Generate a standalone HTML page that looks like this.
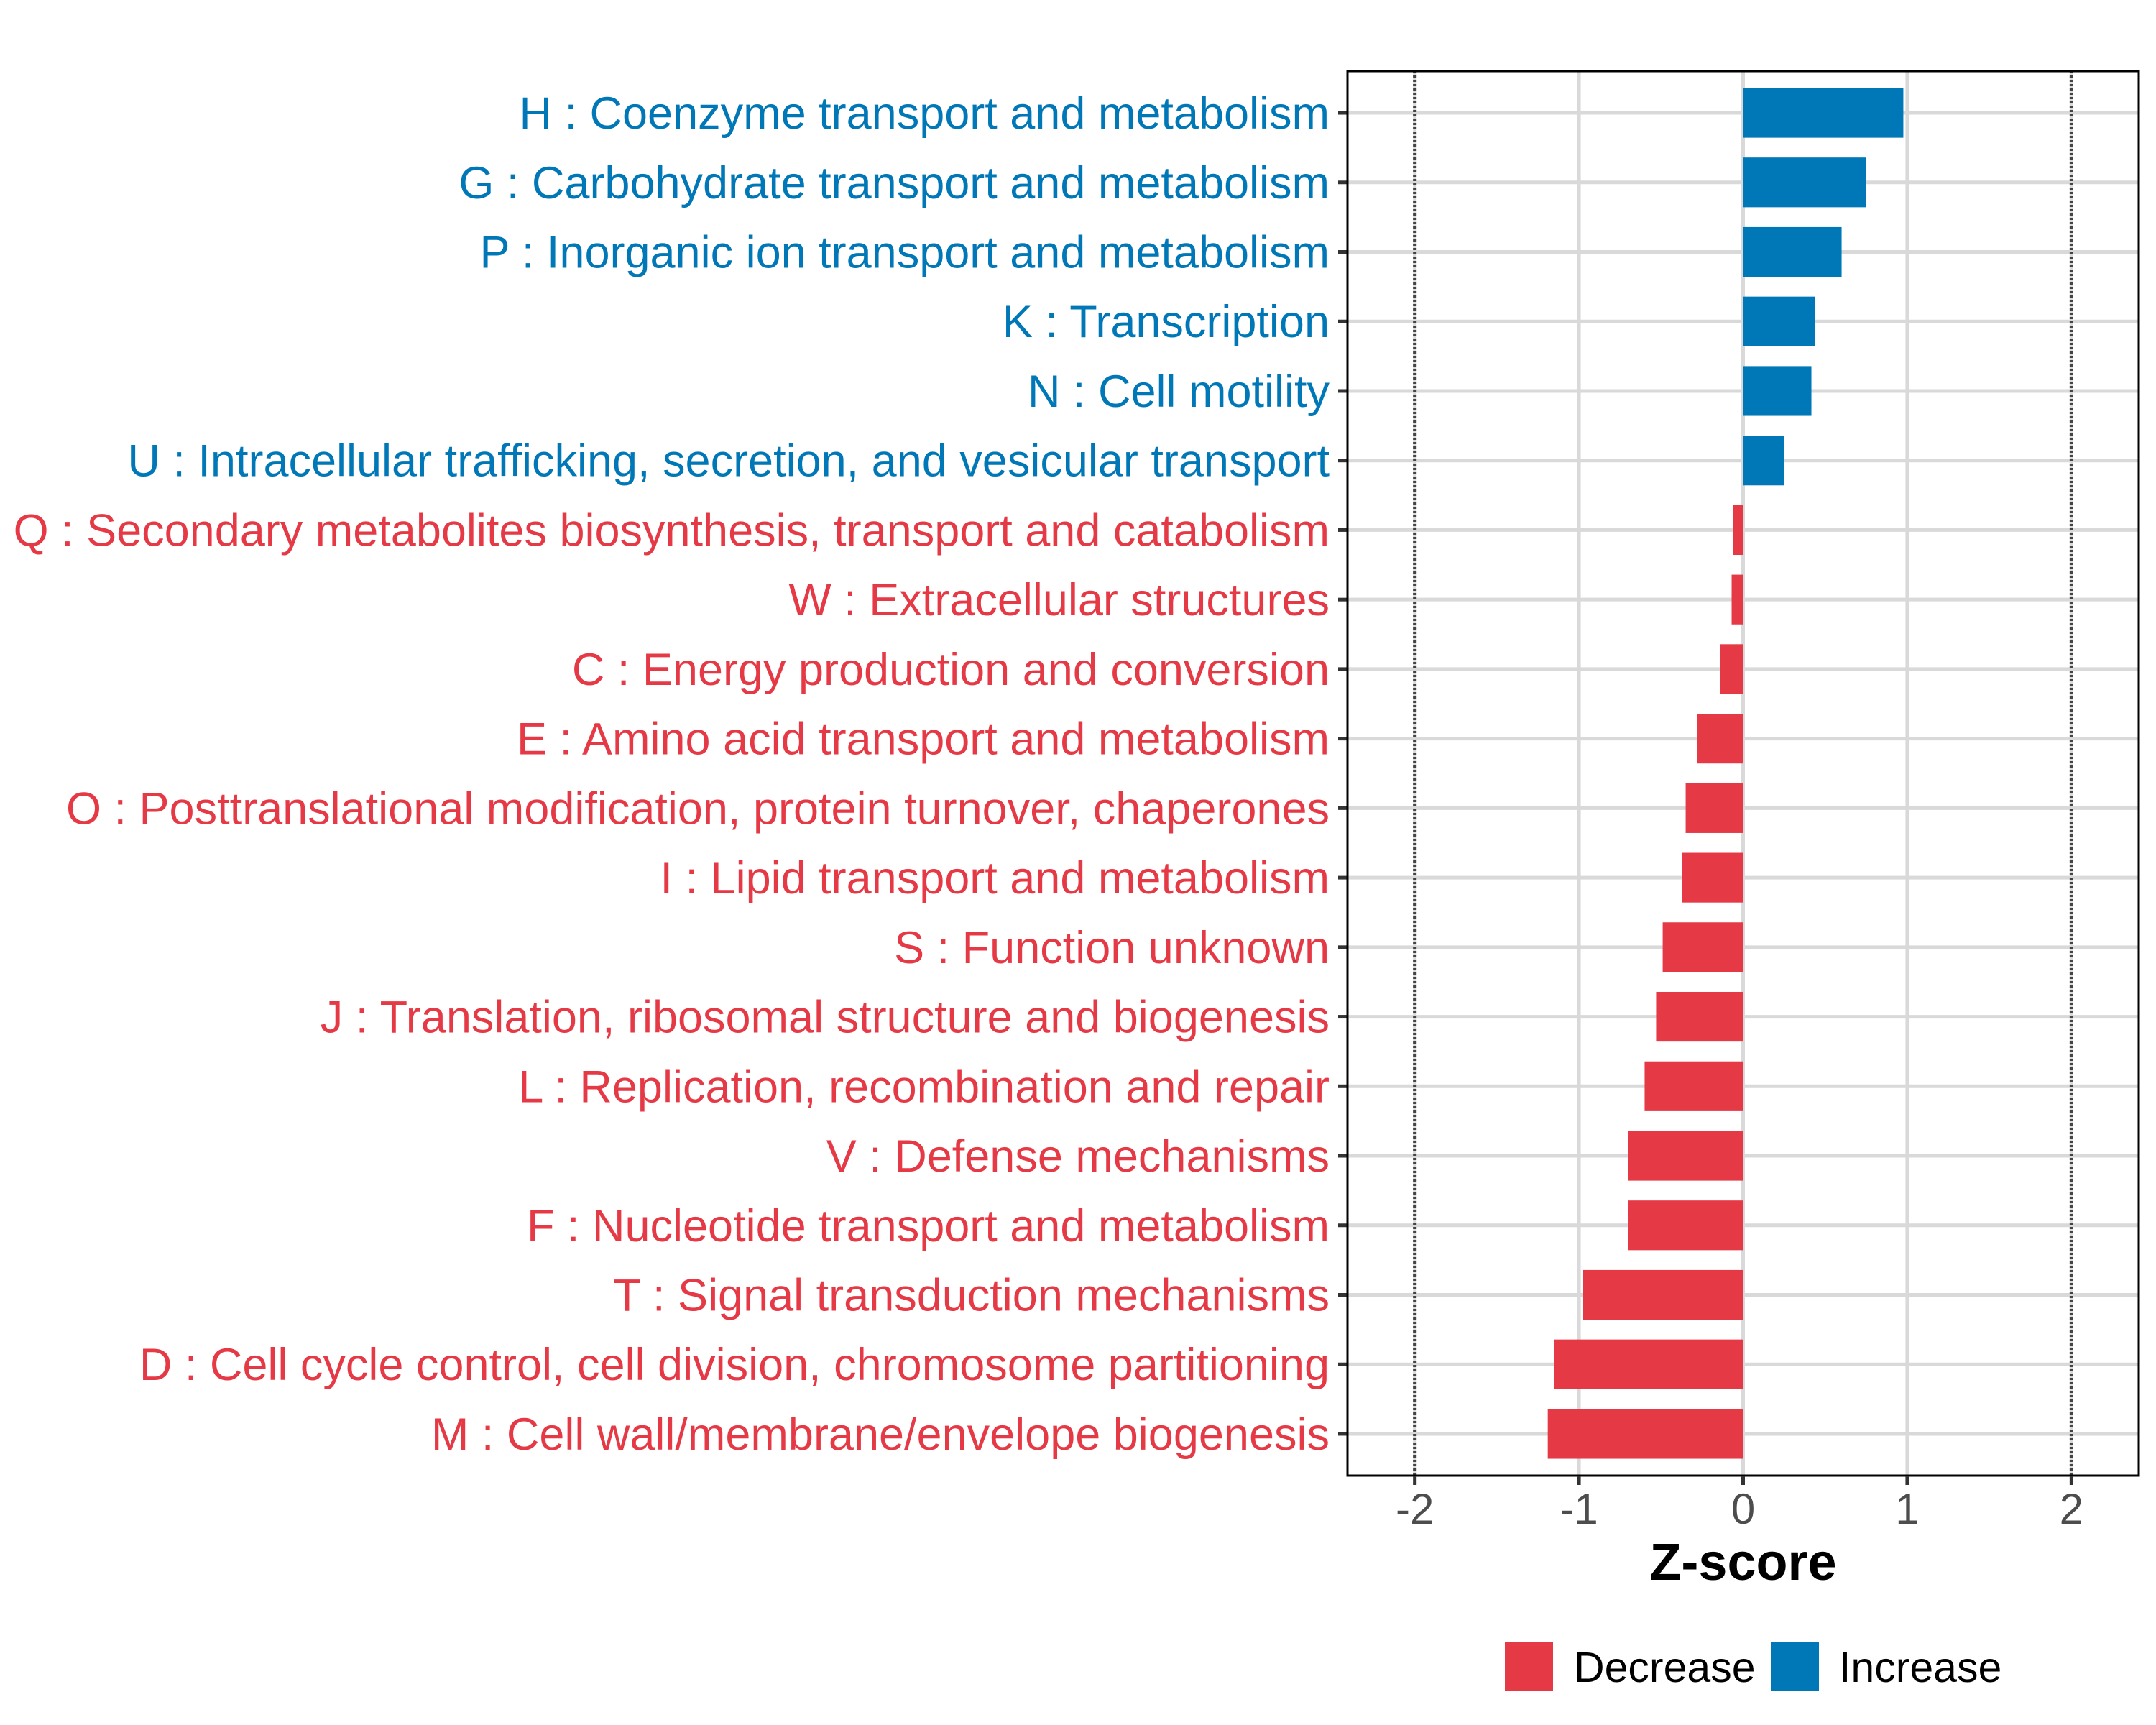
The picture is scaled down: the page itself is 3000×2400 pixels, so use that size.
<!DOCTYPE html>
<html><head><meta charset="utf-8"><style>
html,body{margin:0;padding:0;background:#fff;}
svg{display:block;font-family:"Liberation Sans",Arial,sans-serif;}
</style></head><body>
<svg id="chart" width="3000" height="2400" viewBox="0 0 3000 2400" xmlns="http://www.w3.org/2000/svg">
<rect width="3000" height="2400" fill="#fff"/>
<g id="grid"></g>
<g id="bars"></g>
<g id="axes"></g>
<text x="2425.5" y="2198" font-size="72" font-weight="bold" text-anchor="middle" fill="#000">Z-score</text>
<g>
<rect x="2094" y="2285" width="67" height="67" fill="#E63946"/>
<text x="2190" y="2340" font-size="59" fill="#000">Decrease</text>
<rect x="2464" y="2285" width="67" height="67" fill="#0077B6"/>
<text x="2559" y="2340" font-size="59" fill="#000">Increase</text>
</g>
</svg>
<script>
const categories = [
"H : Coenzyme transport and metabolism",
"G : Carbohydrate transport and metabolism",
"P : Inorganic ion transport and metabolism",
"K : Transcription",
"N : Cell motility",
"U : Intracellular trafficking, secretion, and vesicular transport",
"Q : Secondary metabolites biosynthesis, transport and catabolism",
"W : Extracellular structures",
"C : Energy production and conversion",
"E : Amino acid transport and metabolism",
"O : Posttranslational modification, protein turnover, chaperones",
"I : Lipid transport and metabolism",
"S : Function unknown",
"J : Translation, ribosomal structure and biogenesis",
"L : Replication, recombination and repair",
"V : Defense mechanisms",
"F : Nucleotide transport and metabolism",
"T : Signal transduction mechanisms",
"D : Cell cycle control, cell division, chromosome partitioning",
"M : Cell wall/membrane/envelope biogenesis"];
const zscores = [0.976,0.75,0.60,0.437,0.416,0.25,-0.06,-0.07,-0.138,-0.28,-0.35,-0.37,-0.49,-0.53,-0.60,-0.70,-0.70,-0.976,-1.15,-1.19];
const xTicks = [-2,-1,0,1,2];
const xTickLabels = ["-2","-1","0","1","2"];
const thresholds = [-2,2];

const NS="http://www.w3.org/2000/svg";
const P={l:1875,r:2976,t:99,b:2053};
const xMin=-2.41,xMax=2.41;
function xs(v){return P.l+(v-xMin)/(xMax-xMin)*(P.r-P.l);}
const n=categories.length;
function ys(i){return P.t+(i+0.6)/(n+0.2)*(P.b-P.t);}
const step=(P.b-P.t)/(n+0.2);
function mk(tag,attrs,parent){const e=document.createElementNS(NS,tag);for(const k in attrs)e.setAttribute(k,attrs[k]);parent.appendChild(e);return e;}
const grid=document.getElementById('grid'),bars=document.getElementById('bars'),axes=document.getElementById('axes');
xTicks.forEach((t,i)=>{const l=mk('line',{x1:xs(t),x2:xs(t),y1:P.t,y2:P.b,stroke:'#d9d9d9','stroke-width':5},grid);

});
categories.forEach((c,i)=>{const l=mk('line',{x1:P.l,x2:P.r,y1:ys(i),y2:ys(i),stroke:'#d9d9d9','stroke-width':5},grid);

});
thresholds.forEach(t=>{const l=mk('line',{x1:xs(t),x2:xs(t),y1:P.t,y2:P.b,stroke:'#444','stroke-width':5,'stroke-dasharray':'3 3'},grid);

});
const bh=step*0.715;
zscores.forEach((v,i)=>{const x0=xs(Math.min(0,v)),x1=xs(Math.max(0,v));
const r=mk('rect',{x:x0,y:ys(i)-bh/2,width:x1-x0,height:bh,fill:v<0?'#E63946':'#0077B6'},bars);


const t=mk('text',{x:1850,y:ys(i)+22,'font-size':63,'text-anchor':'end',fill:v<0?'#E63946':'#0077B6'},axes);
t.textContent=categories[i];


const tk=mk('line',{x1:P.l-13,x2:P.l,y1:ys(i),y2:ys(i),stroke:'#333','stroke-width':5},axes);

});
const f=mk('rect',{x:P.l,y:P.t,width:P.r-P.l,height:P.b-P.t,fill:'none',stroke:'#000','stroke-width':3},axes);


xTicks.forEach((t,i)=>{const tk=mk('line',{x1:xs(t),x2:xs(t),y1:P.b,y2:P.b+13,stroke:'#333','stroke-width':5},axes);


const tl=mk('text',{x:xs(t),y:2120,'font-size':60,'text-anchor':'middle',fill:'#4d4d4d'},axes);
tl.textContent=xTickLabels[i];

});
</script>
</body></html>
